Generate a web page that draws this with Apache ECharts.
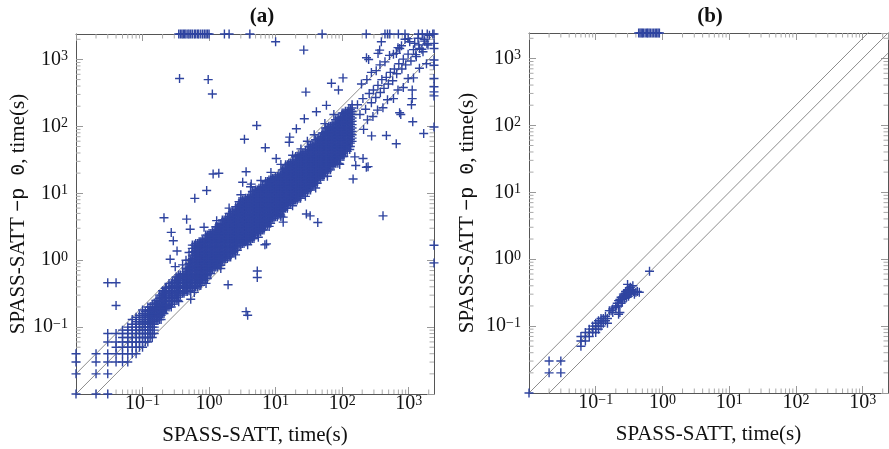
<!DOCTYPE html>
<html>
<head>
<meta charset="utf-8">
<script src="https://cdn.jsdelivr.net/npm/echarts@6/dist/echarts.min.js"></script>
<style>
  html, body { margin: 0; padding: 0; background: #fff; }
  #chart { width: 889px; height: 449px; }
</style>
</head>
<body>
<div id="chart"></div>
<script>
// axis range (seconds); timeouts are plotted on the upper bound
const axisMin = 0.01;
const timeout = 2400;
// reference lines y = f * x
const refFactors = [2, 1, 0.5];
const minorTicks = [0.02, 0.03, 0.04, 0.05, 0.06, 0.07, 0.08, 0.09,
  0.2, 0.3, 0.4, 0.5, 0.6, 0.7, 0.8, 0.9, 2, 3, 4, 5, 6, 7, 8, 9,
  20, 30, 40, 50, 60, 70, 80, 90, 200, 300, 400, 500, 600, 700, 800, 900, 2000];

// (a) short runs, measured at 0.01 s: [x, [y...]]
const lowGridA = [
  [0.01, [0.01, 0.02, 0.03, 0.04]],
  [0.02, [0.01, 0.02, 0.03, 0.04]],
  [0.03, [0.01, 0.02, 0.03, 0.04, 0.06, 0.08]],
  [0.04, [0.03, 0.04, 0.05, 0.06, 0.08]],
  [0.05, [0.03, 0.04, 0.05, 0.06, 0.07, 0.08, 0.09]],
  [0.06, [0.03, 0.04, 0.05, 0.06, 0.07, 0.08, 0.09, 0.1]],
  [0.07, [0.04, 0.05, 0.06, 0.07, 0.08, 0.09, 0.1, 0.11, 0.13]],
  [0.08, [0.04, 0.05, 0.06, 0.07, 0.08, 0.09, 0.1, 0.11, 0.12, 0.14]],
  [0.09, [0.05, 0.06, 0.07, 0.08, 0.09, 0.1, 0.11, 0.12, 0.13, 0.15]],
  [0.1, [0.05, 0.06, 0.07, 0.08, 0.09, 0.1, 0.11, 0.12, 0.13, 0.14, 0.16, 0.18]],
  [0.11, [0.06, 0.07, 0.08, 0.09, 0.1, 0.11, 0.12, 0.13, 0.14, 0.15, 0.17]],
  [0.12, [0.06, 0.07, 0.08, 0.09, 0.1, 0.11, 0.12, 0.13, 0.14, 0.15, 0.16, 0.18, 0.2]],
  [0.13, [0.07, 0.08, 0.09, 0.1, 0.11, 0.12, 0.13, 0.14, 0.15, 0.16, 0.18, 0.2]],
  [0.14, [0.07, 0.08, 0.1, 0.11, 0.12, 0.13, 0.14, 0.15, 0.16, 0.17, 0.19, 0.22]],
  [0.15, [0.08, 0.09, 0.1, 0.11, 0.12, 0.13, 0.14, 0.15, 0.16, 0.17, 0.18, 0.2, 0.23]]
];

// (a) the dense band, read in narrow strips: [[x, x'], [y...]]
const bandA = [
  [[0.16, 0.17], [0.13, 0.14, 0.16, 0.18, 0.2, 0.22, 0.25]],
  [[0.18, 0.19], [0.13, 0.15, 0.17, 0.19, 0.21, 0.24, 0.27, 0.3]],
  [[0.2, 0.21], [0.16, 0.18, 0.2, 0.22, 0.25, 0.28, 0.32, 0.35]],
  [[0.22, 0.23], [0.19, 0.21, 0.24, 0.27, 0.3, 0.34, 0.38]],
  [[0.25, 0.27], [0.2, 0.22, 0.25, 0.28, 0.32, 0.35, 0.4, 0.45]],
  [[0.28, 0.3], [0.24, 0.27, 0.3, 0.34, 0.38, 0.42, 0.47]],
  [[0.32, 0.34], [0.25, 0.28, 0.32, 0.35, 0.4, 0.45, 0.5, 0.56]],
  [[0.35, 0.37], [0.3, 0.34, 0.38, 0.42, 0.47, 0.53, 0.6]],
  [[0.4, 0.42], [0.32, 0.35, 0.4, 0.45, 0.5, 0.56, 0.63]],
  [[0.45, 0.47], [0.34, 0.38, 0.42, 0.47, 0.53, 0.6, 0.67, 0.75]],
  [[0.5, 0.53], [0.35, 0.4, 0.45, 0.5, 0.56, 0.63, 0.71, 0.79, 0.89, 1]],
  [[0.56, 0.6], [0.38, 0.42, 0.47, 0.53, 0.6, 0.67, 0.75, 0.84, 0.94, 1.06, 1.19, 1.33, 1.5, 1.68]],
  [[0.63, 0.67], [0.4, 0.45, 0.5, 0.56, 0.63, 0.71, 0.79, 0.89, 1, 1.12, 1.26, 1.41, 1.58, 1.78]],
  [[0.71, 0.75], [0.42, 0.47, 0.53, 0.6, 0.67, 0.75, 0.84, 0.94, 1.06, 1.19, 1.33, 1.5, 1.68, 1.88]],
  [[0.79, 0.84], [0.5, 0.56, 0.63, 0.71, 0.79, 0.89, 1, 1.12, 1.26, 1.41, 1.58, 1.78, 2]],
  [[0.89, 0.94], [0.53, 0.6, 0.67, 0.75, 0.84, 0.94, 1.06, 1.19, 1.33, 1.5, 1.68, 1.88, 2.11, 2.37]],
  [[1, 1.06], [0.63, 0.71, 0.79, 0.89, 1, 1.12, 1.26, 1.41, 1.58, 1.78, 2, 2.24, 2.51]],
  [[1.12, 1.19], [0.75, 0.84, 0.94, 1.06, 1.19, 1.33, 1.5, 1.68, 1.88, 2.11, 2.37, 2.66]],
  [[1.26, 1.33], [0.79, 0.89, 1, 1.12, 1.26, 1.41, 1.58, 1.78, 2, 2.24, 2.51, 2.82, 3.16]],
  [[1.41, 1.5], [0.84, 0.94, 1.06, 1.19, 1.33, 1.5, 1.68, 1.88, 2.11, 2.37, 2.66, 2.99, 3.35]],
  [[1.58, 1.68], [1, 1.12, 1.26, 1.41, 1.58, 1.78, 2, 2.24, 2.51, 2.82, 3.16, 3.55, 3.98]],
  [[1.78, 1.88], [1.06, 1.19, 1.33, 1.5, 1.68, 1.88, 2.11, 2.37, 2.66, 2.99, 3.35, 3.76, 4.22]],
  [[2, 2.11], [1.12, 1.26, 1.41, 1.58, 1.78, 2, 2.24, 2.51, 2.82, 3.16, 3.55, 3.98, 4.47, 5.01]],
  [[2.24, 2.37], [1.33, 1.5, 1.68, 1.88, 2.11, 2.37, 2.66, 2.99, 3.35, 3.76, 4.22, 4.73, 5.31]],
  [[2.51, 2.66], [1.41, 1.58, 1.78, 2, 2.24, 2.51, 2.82, 3.16, 3.55, 3.98, 4.47, 5.01, 5.62, 6.31]],
  [[2.82, 2.99], [1.68, 1.88, 2.11, 2.37, 2.66, 2.99, 3.35, 3.76, 4.22, 4.73, 5.31, 5.96, 6.68, 7.5]],
  [[3.16, 3.35], [1.78, 2, 2.24, 2.51, 2.82, 3.16, 3.55, 3.98, 4.47, 5.01, 5.62, 6.31, 7.08, 7.94]],
  [[3.55, 3.76], [1.88, 2.11, 2.37, 2.66, 2.99, 3.35, 3.76, 4.22, 4.73, 5.31, 5.96, 6.68, 7.5, 8.41]],
  [[3.98, 4.22], [2, 2.24, 2.51, 2.82, 3.16, 3.55, 3.98, 4.47, 5.01, 5.62, 6.31, 7.08, 7.94, 8.91]],
  [[4.47, 4.73], [2.11, 2.37, 2.66, 2.99, 3.35, 3.76, 4.22, 4.73, 5.31, 5.96, 6.68, 7.5, 8.41, 9.44, 10.6]],
  [[5.01, 5.31], [2.51, 2.82, 3.16, 3.55, 3.98, 4.47, 5.01, 5.62, 6.31, 7.08, 7.94, 8.91, 10, 11.2]],
  [[5.62, 5.96], [2.66, 2.99, 3.35, 3.76, 4.22, 4.73, 5.31, 5.96, 6.68, 7.5, 8.41, 9.44, 10.6, 11.9]],
  [[6.31, 6.68], [2.82, 3.16, 3.55, 3.98, 4.47, 5.01, 5.62, 6.31, 7.08, 7.94, 8.91, 10, 11.2, 12.6]],
  [[7.08, 7.5], [3.35, 3.76, 4.22, 4.73, 5.31, 5.96, 6.68, 7.5, 8.41, 9.44, 10.6, 11.9, 13.3, 15]],
  [[7.94, 8.41], [3.55, 3.98, 4.47, 5.01, 5.62, 6.31, 7.08, 7.94, 8.91, 10, 11.2, 12.6, 14.1, 15.8]],
  [[8.91, 9.44], [4.22, 4.73, 5.31, 5.96, 6.68, 7.5, 8.41, 9.44, 10.6, 11.9, 13.3, 15, 16.8]],
  [[10, 10.6], [4.47, 5.01, 5.62, 6.31, 7.08, 7.94, 8.91, 10, 11.2, 12.6, 14.1, 15.8, 17.8]],
  [[11.2, 11.9], [4.73, 5.31, 5.96, 6.68, 7.5, 8.41, 9.44, 10.6, 11.9, 13.3, 15, 16.8, 18.8]],
  [[12.6, 13.3], [5.62, 6.31, 7.08, 7.94, 8.91, 10, 11.2, 12.6, 14.1, 15.8, 17.8, 20, 22.4]],
  [[14.1, 15], [5.96, 6.68, 7.5, 8.41, 9.44, 10.6, 11.9, 13.3, 15, 16.8, 18.8, 21.1, 23.7, 26.6]],
  [[15.8, 16.8], [7.08, 7.94, 8.91, 10, 11.2, 12.6, 14.1, 15.8, 17.8, 20, 22.4, 25.1, 28.2]],
  [[17.8, 18.8], [7.5, 8.41, 9.44, 10.6, 11.9, 13.3, 15, 16.8, 18.8, 21.1, 23.7, 26.6, 29.9]],
  [[20, 21.1], [7.94, 8.91, 10, 11.2, 12.6, 14.1, 15.8, 17.8, 20, 22.4, 25.1, 28.2, 31.6, 35.5]],
  [[22.4, 23.7], [8.41, 9.44, 10.6, 11.9, 13.3, 15, 16.8, 18.8, 21.1, 23.7, 26.6, 29.9, 33.5, 37.6]],
  [[25.1, 26.6], [10, 11.2, 12.6, 14.1, 15.8, 17.8, 20, 22.4, 25.1, 28.2, 31.6, 35.5, 39.8]],
  [[28.2, 29.9], [10.6, 11.9, 13.3, 15, 16.8, 18.8, 21.1, 23.7, 26.6, 29.9, 33.5, 37.6, 42.2]],
  [[31.6, 33.5], [11.2, 12.6, 14.1, 15.8, 17.8, 20, 22.4, 25.1, 28.2, 31.6, 35.5, 39.8, 44.7, 50.1]],
  [[35.5, 37.6], [13.3, 15, 16.8, 18.8, 21.1, 23.7, 26.6, 29.9, 33.5, 37.6, 42.2, 47.3, 53.1]],
  [[39.8, 42.2], [14.1, 15.8, 17.8, 20, 22.4, 25.1, 28.2, 31.6, 35.5, 39.8, 44.7, 50.1, 56.2, 63.1]],
  [[44.7, 47.3], [16.8, 18.8, 21.1, 23.7, 26.6, 29.9, 33.5, 37.6, 42.2, 47.3, 53.1, 59.6, 66.8]],
  [[50.1, 53.1], [17.8, 20, 22.4, 25.1, 28.2, 31.6, 35.5, 39.8, 44.7, 50.1, 56.2, 63.1, 70.8, 79.4]],
  [[56.2, 59.6], [21.1, 23.7, 26.6, 29.9, 33.5, 37.6, 42.2, 47.3, 53.1, 59.6, 66.8, 75, 84.1, 94.4]],
  [[63.1, 66.8], [22.4, 25.1, 28.2, 31.6, 35.5, 39.8, 44.7, 50.1, 56.2, 63.1, 70.8, 79.4, 89.1, 100]],
  [[70.8, 75], [26.6, 29.9, 33.5, 37.6, 42.2, 47.3, 53.1, 59.6, 66.8, 75, 84.1, 94.4, 106]],
  [[79.4, 84.1], [28.2, 31.6, 35.5, 39.8, 44.7, 50.1, 56.2, 63.1, 70.8, 79.4, 89.1, 100, 112, 126]],
  [[89.1, 94.4], [33.5, 37.6, 42.2, 47.3, 53.1, 59.6, 66.8, 75, 84.1, 94.4, 106, 119, 133]],
  [[100, 106], [35.5, 39.8, 44.7, 50.1, 56.2, 63.1, 70.8, 79.4, 89.1, 100, 112, 126, 141, 158]],
  [[112, 119], [42.2, 47.3, 53.1, 59.6, 66.8, 75, 84.1, 94.4, 106, 119, 133, 150, 168]],
  [[126, 133], [50.1, 56.2, 63.1, 70.8, 79.4, 89.1, 100, 112, 126, 141, 158, 178]],
  [[141], [59.6, 66.8, 75, 84.1, 94.4, 106, 119, 133, 150, 168, 188, 211]]
];

// (a) sparse points: band fringes, outliers, the upper-right tail
const scatterA = [
  [0.03, 0.46], [0.04, 0.46], [0.04, 0.21],
  [0.21, 4.3], [0.27, 2.6], [0.29, 1.95], [0.33, 1.37], [0.26, 1.03], [0.31, 0.8],
  [0.46, 4.1], [0.52, 2.9], [0.61, 8.4], [0.84, 3.1], [0.92, 11],
  [1.15, 19.4], [1.4, 19.9], [3.6, 21], [3.2, 14.6], [4.3, 13.7],
  [0.36, 519], [0.97, 500], [1.12, 305],
  [3.4, 64], [5.2, 103], [7.0, 48], [10.2, 33], [16.3, 69], [16, 58], [20.5, 92], [27, 130], [41, 165], [58, 206],
  [10, 1840], [26.5, 1380], [28.5, 325], [69, 440], [88, 350], [103, 530],
  [0.53, 0.26], [1.93, 0.43], [3.6, 0.17], [3.8, 0.15], [5.3, 0.69], [5.3, 0.55], [6.9, 1.7], [7.3, 1.75],
  [13, 3.7], [13, 4.4], [29, 4.9], [33, 4.6], [43, 3.65], [411, 4.6],
  [92, 27], [160, 26], [245, 25], [146, 16.3], [155, 35], [206, 33], [231, 24.5],
  [277, 72], [462, 73], [650, 55], [1680, 78], [1150, 117], [730, 160], [760, 150], [1130, 350], [1130, 260], [1100, 210],
  [0.45, 1.0], [0.4, 0.85], [0.5, 1.3], [1.3, 3.9], [2.0, 6.0], [3.0, 9.5], [4.2, 12.5], [6.0, 15.5], [8.5, 20.5],
  [12, 27], [18, 37], [24, 46], [30, 60], [38, 75], [55, 110], [75, 150],
  [0.35, 0.24], [0.6, 0.33], [0.9, 0.45], [1.5, 0.75], [2.5, 1.2], [3.8, 1.7], [5.5, 2.2], [8, 3.2], [12, 4.5],
  [18, 6.5], [28, 9], [40, 12], [60, 18], [90, 28], [130, 45],
  [170, 210], [185, 150], [205, 260], [225, 180], [255, 310], [275, 225], [295, 350], [320, 270], [345, 410],
  [375, 320], [395, 500], [425, 370], [460, 540], [495, 430], [530, 640], [575, 480], [610, 720], [660, 610],
  [710, 860], [790, 720], [830, 1010], [900, 830], [980, 1200], [1080, 950], [1180, 1400], [1280, 1180],
  [1420, 1650], [1580, 1420], [1700, 2000], [1880, 1720], [2050, 2300],
  [195, 430], [235, 500], [275, 640], [325, 680], [370, 830], [440, 920], [515, 1150], [590, 1200], [690, 1500],
  [780, 1600], [880, 2000], [980, 2050],
  [232, 1060], [250, 1000], [366, 1380], [388, 1840], [346, 1230], [653, 1230], [733, 1460], [1035, 1840],
  [1230, 1740], [1380, 2070], [1740, 1880], [1950, 1640], [1460, 1460], [1640, 1300], [1300, 1100],
  [210, 90], [240, 125], [290, 140], [340, 175], [410, 190], [480, 250], [590, 260], [690, 350], [830, 380],
  [980, 520], [1180, 530], [1450, 740], [1850, 860]
];
// (a) timeouts of the -p 0 run (x values) and of the plain run (y values)
const topTimeoutA = [0.35, 0.37, 0.39, 0.41, 0.43, 0.45, 0.48, 0.5, 0.53, 0.56, 0.6, 0.63, 0.67, 0.7, 0.75,
  0.8, 0.85, 0.9, 0.95, 1.0, 1.7, 2.0, 4.1, 50, 230, 440, 480, 520, 700, 880, 1400, 1600, 1900, 2300];
const rightTimeoutA = [2400, 1740, 1460, 980, 820, 519, 390, 327, 285, 98, 1.67, 0.91];

// (b)
const pointsB = [
  [0.01, 0.01], [0.02, 0.02], [0.03, 0.02], [0.02, 0.03], [0.03, 0.03],
  [0.06, 0.05], [0.06, 0.06], [0.06, 0.07], [0.07, 0.06], [0.07, 0.07], [0.07, 0.08], [0.08, 0.07], [0.08, 0.08],
  [0.08, 0.09], [0.09, 0.08], [0.09, 0.09], [0.09, 0.1], [0.1, 0.08], [0.1, 0.09], [0.1, 0.1], [0.1, 0.11],
  [0.11, 0.09], [0.11, 0.1], [0.11, 0.11], [0.11, 0.12], [0.12, 0.1], [0.12, 0.12], [0.12, 0.13], [0.13, 0.11],
  [0.13, 0.12], [0.13, 0.13], [0.14, 0.12], [0.14, 0.14], [0.15, 0.11], [0.15, 0.13], [0.16, 0.17], [0.17, 0.17],
  [0.18, 0.18], [0.18, 0.16], [0.2, 0.19], [0.2, 0.2], [0.21, 0.22], [0.22, 0.15], [0.23, 0.16], [0.22, 0.2],
  [0.22, 0.24], [0.23, 0.25], [0.24, 0.22], [0.24, 0.27], [0.25, 0.23], [0.25, 0.25], [0.26, 0.28], [0.26, 0.3],
  [0.27, 0.26], [0.27, 0.29], [0.28, 0.31], [0.28, 0.33], [0.29, 0.27], [0.29, 0.3], [0.3, 0.32], [0.3, 0.35],
  [0.3, 0.42], [0.31, 0.28], [0.31, 0.34], [0.32, 0.3], [0.32, 0.36], [0.33, 0.33], [0.33, 0.38], [0.34, 0.31],
  [0.35, 0.35], [0.36, 0.4], [0.37, 0.33], [0.38, 0.3], [0.4, 0.32], [0.42, 0.33], [0.45, 0.32], [0.64, 0.66]
];
const topTimeoutB = [0.44, 0.46, 0.48, 0.5, 0.52, 0.55, 0.58, 0.6, 0.63, 0.66, 0.7, 0.74, 0.78, 0.82, 0.86, 0.9];

const FONT = 'Liberation Serif';
const MARK = '#2f44a0';
const PLUS = 'path://M5 0L5 10M0 5L10 5';

function flatten(cols) {
  const out = [];
  cols.forEach(([xs, ys]) => {
    [].concat(xs).forEach(x => ys.forEach(y => out.push([x, y])));
  });
  return out;
}

const dataA = flatten(lowGridA).concat(
  flatten(bandA), scatterA,
  topTimeoutA.map(x => [x, timeout]),
  rightTimeoutA.map(y => [timeout, y])
);
const dataB = pointsB.concat(topTimeoutB.map(x => [x, timeout]));

function tickLabel(v) {
  const e = Math.round(Math.log10(v));
  if (e < -1) return '';
  return '{b|10}{s|' + (e < 0 ? '\u2212' + (-e) : e) + '}';
}
const labelRich = {
  b: { fontSize: 20, fontFamily: FONT, color: '#111', lineHeight: 20, padding: [5, 0, 0, 0], verticalAlign: 'bottom' },
  s: { fontSize: 14, fontFamily: FONT, color: '#111', lineHeight: 14, verticalAlign: 'top' }
};

function logAxis(gridIndex, position, withLabels, extra) {
  return Object.assign({
    type: 'log', logBase: 10, min: axisMin, max: timeout, gridIndex: gridIndex, position: position,
    axisLine: { show: true, onZero: false, lineStyle: { color: '#555', width: 1 } },
    axisTick: { show: true, inside: true, length: 7, lineStyle: { color: '#999', width: 1 } },
    axisLabel: withLabels
      ? { show: true, formatter: tickLabel, rich: labelRich, showMinLabel: false, showMaxLabel: false }
      : { show: false },
    splitLine: { show: false }
  }, extra || {});
}

const nameStyle = {
  fontFamily: FONT, fontSize: 21, color: '#111',
  rich: { tt: { fontFamily: 'Liberation Mono', fontSize: 20, color: '#111' } }
};
const xName = 'SPASS-SATT, time(s)';
const yName = 'SPASS-SATT {tt|\u2212p 0}, time(s)';

function xBottom(g) {
  const ax = logAxis(g, 'bottom', true, { name: xName, nameLocation: 'middle', nameGap: 31, nameTextStyle: nameStyle });
  ax.axisLabel.margin = 0;
  return ax;
}
function yLeft(g, gap) {
  const ax = logAxis(g, 'left', true, { name: yName, nameLocation: 'middle', nameGap: gap, nameTextStyle: nameStyle });
  ax.axisLabel.margin = 8;
  return ax;
}

function minorTickSeries(xi, yi) {
  return {
    type: 'custom', xAxisIndex: xi, yAxisIndex: yi, silent: true, clip: false, z: 1,
    data: minorTicks.map(v => [v, v]),
    renderItem(params, api) {
      const v = api.value(0);
      const b = api.coord([v, axisMin]);
      const t = api.coord([v, timeout]);
      const l = api.coord([axisMin, v]);
      const r = api.coord([timeout, v]);
      const style = { stroke: '#aaa', lineWidth: 1 };
      const len = 4.5;
      return {
        type: 'group',
        children: [
          { type: 'line', shape: { x1: b[0], y1: b[1], x2: b[0], y2: b[1] - len }, style: style },
          { type: 'line', shape: { x1: t[0], y1: t[1], x2: t[0], y2: t[1] + len }, style: style },
          { type: 'line', shape: { x1: l[0], y1: l[1], x2: l[0] + len, y2: l[1] }, style: style },
          { type: 'line', shape: { x1: r[0], y1: r[1], x2: r[0] - len, y2: r[1] }, style: style }
        ]
      };
    }
  };
}

function refLines(xi, yi) {
  return refFactors.map(f => ({
    type: 'line', xAxisIndex: xi, yAxisIndex: yi, silent: true, clip: true, z: 1,
    data: [[axisMin, axisMin * f], [timeout, timeout * f]],
    symbol: 'none', lineStyle: { color: '#8c8c8c', width: 1 }
  }));
}

function scatter(xi, yi, data) {
  return {
    type: 'scatter', xAxisIndex: xi, yAxisIndex: yi, data: data, silent: true, clip: false, z: 3,
    symbol: PLUS, symbolSize: 9, progressive: 0,
    itemStyle: { color: MARK, borderColor: MARK, borderWidth: 1.4, opacity: 1 },
    emphasis: { disabled: true }
  };
}

const chart = echarts.init(document.getElementById('chart'), null, { renderer: 'canvas' });

const option = {
  animation: false,
  backgroundColor: '#fff',
  grid: [
    { left: 76, top: 34, width: 358, height: 360, outerBoundsMode: 'none' },
    { left: 529, top: 33, width: 359, height: 360, outerBoundsMode: 'none' }
  ],
  xAxis: [xBottom(0), logAxis(0, 'top', false), xBottom(1), logAxis(1, 'top', false)],
  yAxis: [yLeft(0, 46), logAxis(0, 'right', false), yLeft(1, 51), logAxis(1, 'right', false)],
  graphic: [
    { type: 'text', x: 262, y: 17, style: { text: '(a)', font: 'bold 21px "Liberation Serif"', fill: '#111', align: 'center', verticalAlign: 'middle' } },
    { type: 'text', x: 710, y: 17, style: { text: '(b)', font: 'bold 21px "Liberation Serif"', fill: '#111', align: 'center', verticalAlign: 'middle' } }
  ],
  series: [
    minorTickSeries(0, 0),
    minorTickSeries(2, 2),
    ...refLines(0, 0),
    ...refLines(2, 2),
    scatter(0, 0, dataA),
    scatter(2, 2, dataB)
  ]
};

chart.setOption(option);
</script>
</body>
</html>
